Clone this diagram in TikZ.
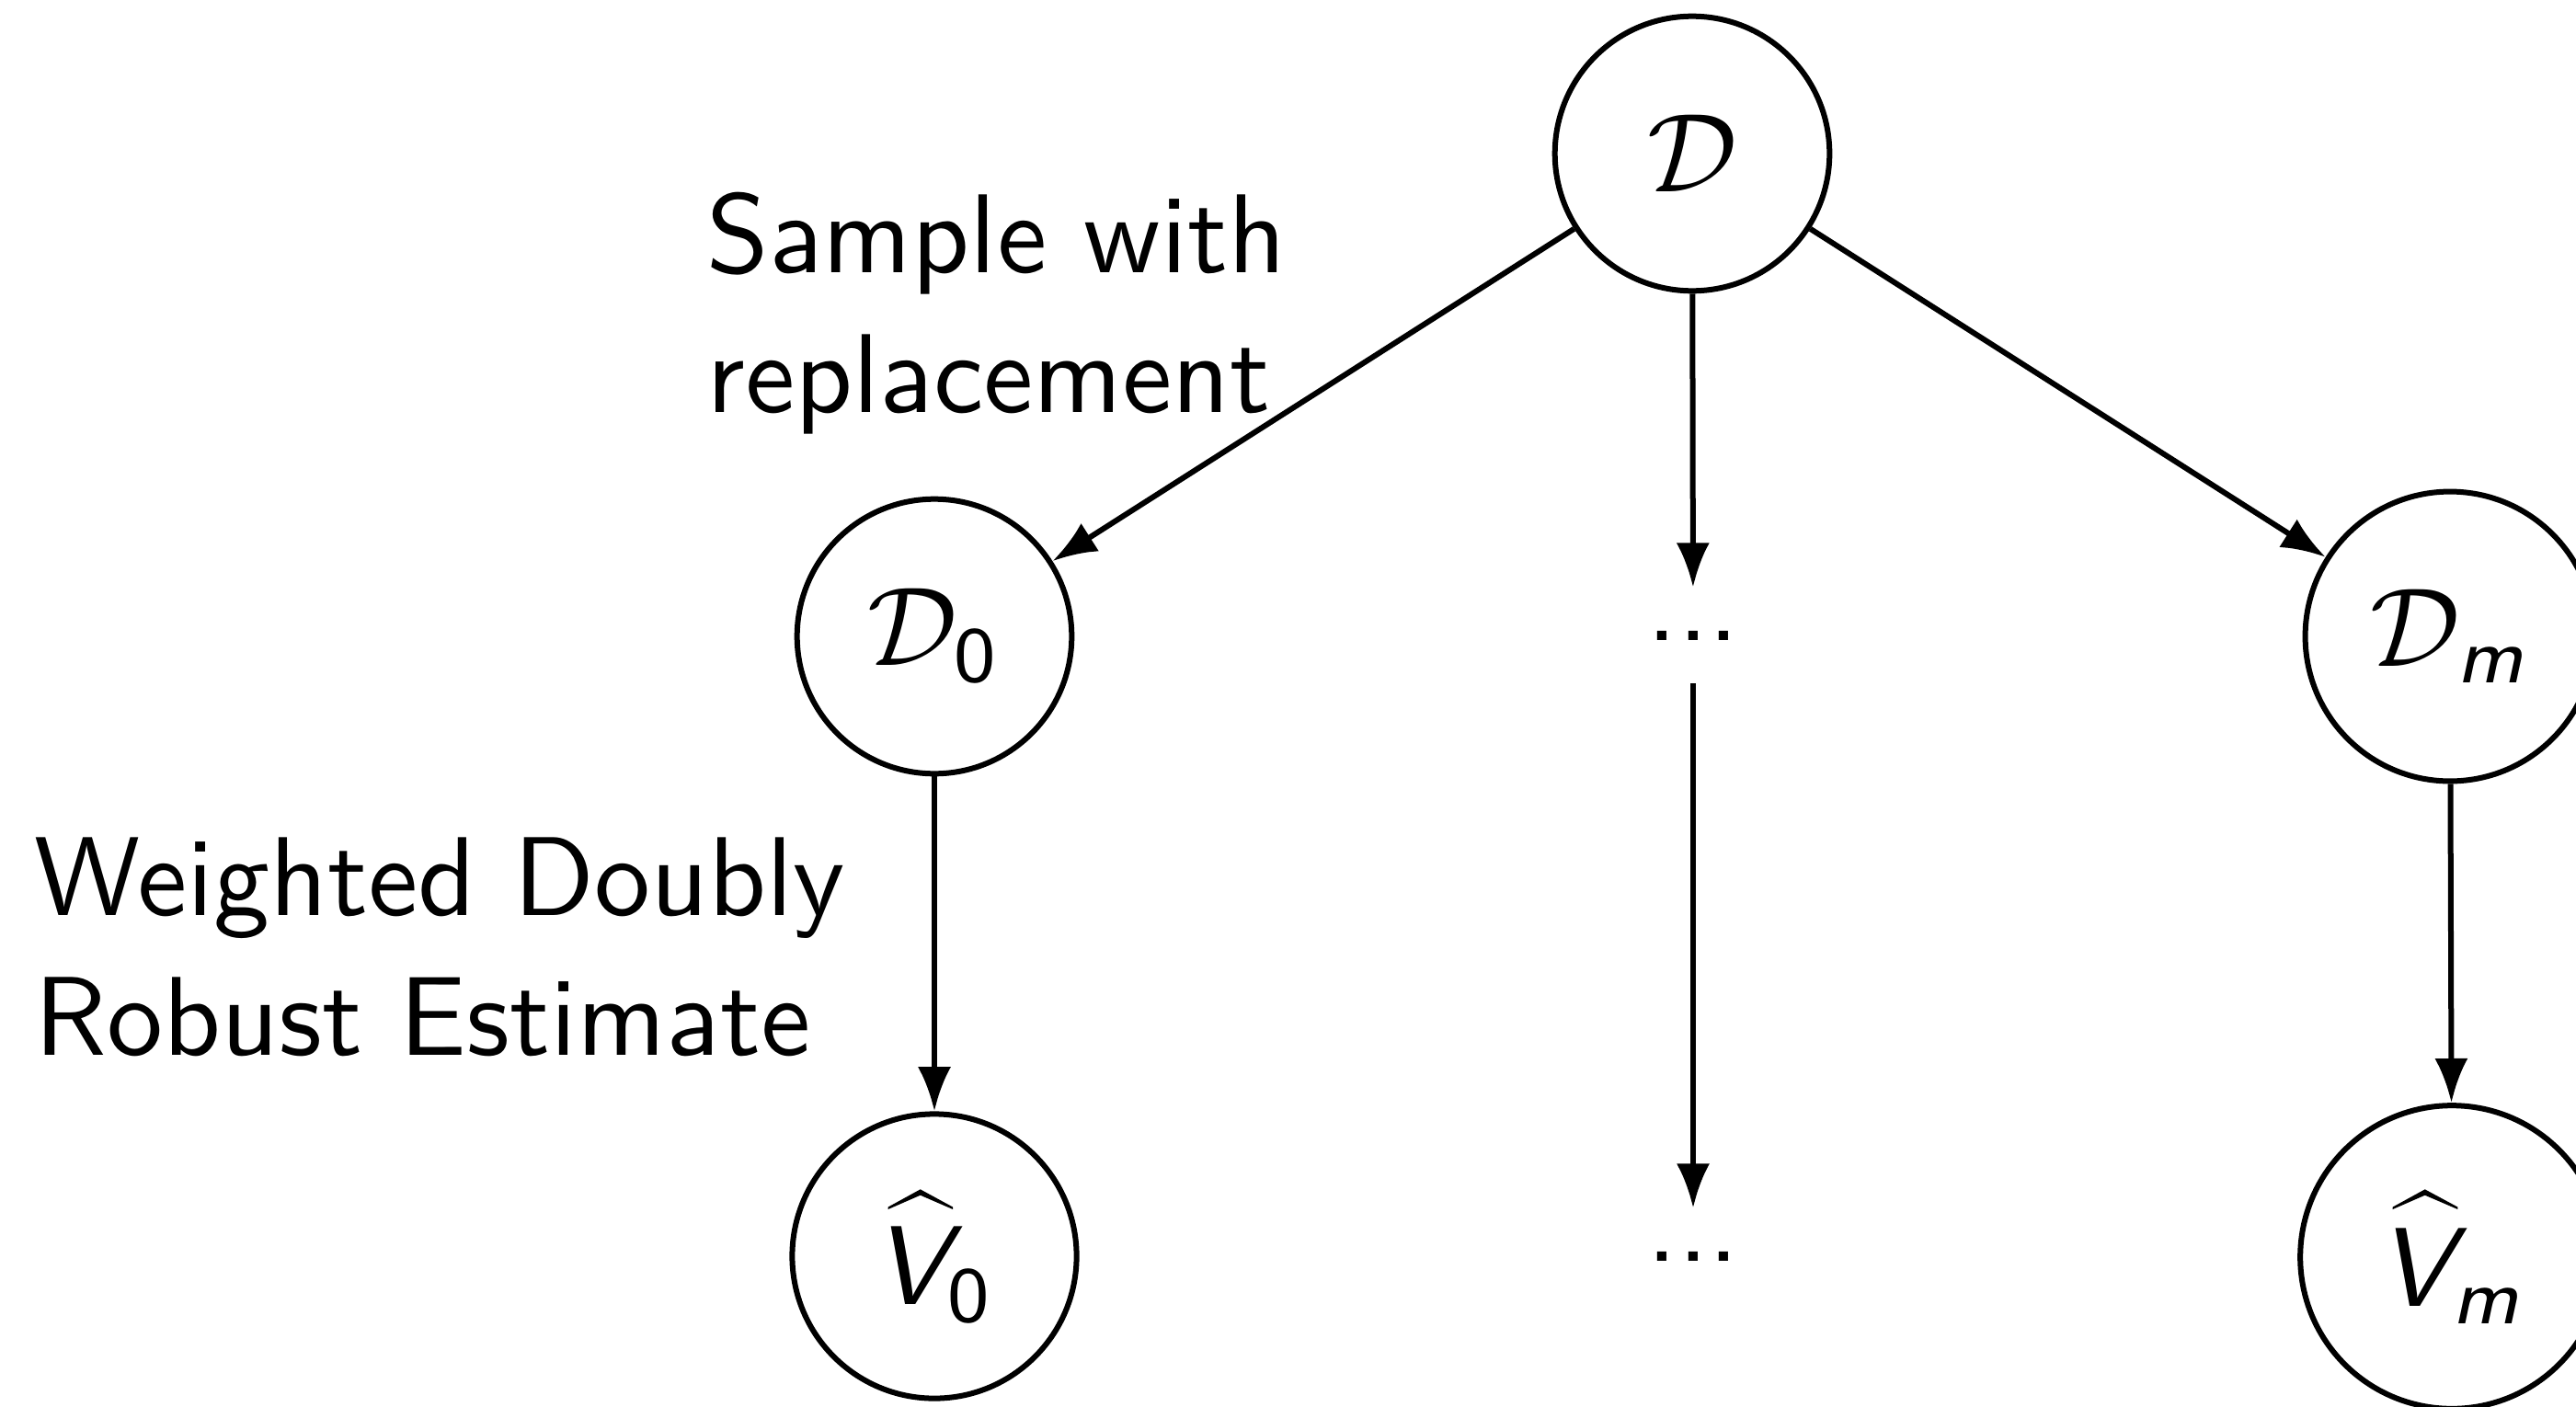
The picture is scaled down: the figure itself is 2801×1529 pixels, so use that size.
\documentclass[tikz,border=0pt]{standalone}
\usepackage{graphicx}
\usepackage{fontspec}
\newfontfamily\lblfont{lmsans10-regular.otf}
\usetikzlibrary{arrows.meta}
\DeclareMathAlphabet{\mathsfit}{OT1}{cmss}{m}{sl}
\newcommand{\bigmath}[1]{\scalebox{1.728}{$#1$}}
\newcommand{\sfV}{\mathord{\hbox{\vrule height10.33pt width0pt\usefont{OT1}{cmss}{m}{sl}V}}}
\begin{document}
\begin{tikzpicture}[x=0.14164pt, y=-0.14164pt,
  every node/.style={font=\normalsize},
  state/.style={draw, circle, line width=0.85pt, inner sep=0pt},
  dotsnode/.style={rectangle, inner sep=0pt, minimum height=14.45pt, minimum width=14pt, font=\fontsize{17.28}{21.4}\selectfont\lblfont},
  arr/.style={-{Latex}, line width=0.85pt},
  hatmark/.style={fill=black, draw=none},
  lbl/.style={align=left, inner sep=0pt, font=\fontsize{17.28}{21.4}\selectfont\lblfont}]
\useasboundingbox (0,0) rectangle (2801,1529);
\node[state, minimum size=42.3pt] (D)  at (1840,167) {\bigmath{\mathcal{D}}};
\node[state, minimum size=42.3pt] (D0) at (1016,692) {\bigmath{\mathcal{D}_{\mathsf{0}}}};
\node[state, minimum size=44.6pt] (Dm) at (2664,692) {\bigmath{\mathcal{D}_{\mathsfit{m}}}};
\node[dotsnode] (d1) at (1841,691) {...};
\node[state, minimum size=43.8pt] (V0) at (1016,1366) {\bigmath{\sfV_{\mathsf{0}}}};
\node[state, minimum size=46.7pt] (Vm) at (2666,1367) {\bigmath{\sfV_{\mathsfit{m}}}};
\node[dotsnode] (d2) at (1841,1366) {...};
% hats over V
\fill[hatmark, shift={(V0.center)}] (-50.3,-51) -- (-50.3,-53.5) -- (-15.3,-72.7) -- (20,-53.5) -- (20,-51) -- (-15.3,-66.3) -- cycle;
\fill[hatmark, shift={(Vm.center)}] (-64.3,-52) -- (-64.3,-54.5) -- (-29.3,-73.7) -- (6.3,-54.5) -- (6.3,-52) -- (-29.3,-67.3) -- cycle;
\draw[arr] (D) -- (D0);
\draw[arr] (D) -- (Dm);
\draw[arr] (D) -- (d1);
\draw[arr] (d1) -- (d2);
\draw[arr] (D0) -- (V0);
\draw[arr] (Dm) -- (Vm);
\node[lbl, anchor=base west] (l1) at (767,448) {Sample with\\replacement};
\node[lbl, anchor=base west] (l2) at (36,1147) {Weighted Doubly\\Robust Estimate};
\end{tikzpicture}
\end{document}
